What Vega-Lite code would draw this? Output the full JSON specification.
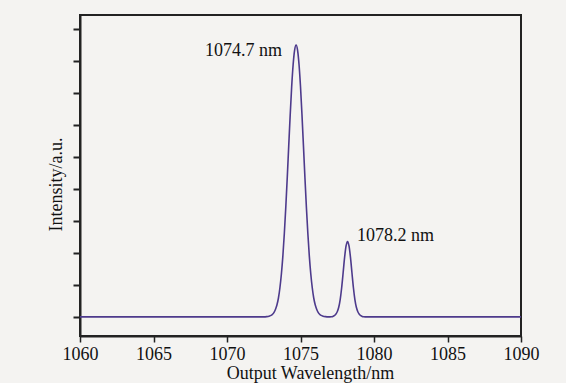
{
  "$schema": "https://vega.github.io/schema/vega-lite/v6.json",
  "autosize": "none",
  "width": 441,
  "height": 321,
  "padding": {"left": 80, "top": 15, "right": 45, "bottom": 47},
  "background": "#f4f3f1",
  "config": {
    "font": "Liberation Serif",
    "view": {"stroke": "#222222", "strokeWidth": 2},
    "axis": {"domainColor": "#222222", "domainWidth": 2, "tickColor": "#222222", "labelColor": "#111111", "titleColor": "#111111", "grid": false, "labelFont": "Liberation Serif", "titleFont": "Liberation Serif", "titleFontWeight": "normal"}
  },
  "datasets": {
    "spectrum": [
      {"wl": 1060, "intensity": 0},
      {"wl": 1072.5, "intensity": 0},
      {"wl": 1072.7, "intensity": 0.006},
      {"wl": 1072.8, "intensity": 0.013},
      {"wl": 1072.9, "intensity": 0.025},
      {"wl": 1073.0, "intensity": 0.045},
      {"wl": 1073.1, "intensity": 0.08},
      {"wl": 1073.2, "intensity": 0.14},
      {"wl": 1073.3, "intensity": 0.24},
      {"wl": 1073.4, "intensity": 0.38},
      {"wl": 1073.5, "intensity": 0.59},
      {"wl": 1073.6, "intensity": 0.91},
      {"wl": 1073.7, "intensity": 1.34},
      {"wl": 1073.8, "intensity": 1.90},
      {"wl": 1073.9, "intensity": 2.61},
      {"wl": 1074.0, "intensity": 3.44},
      {"wl": 1074.1, "intensity": 4.37},
      {"wl": 1074.2, "intensity": 5.36},
      {"wl": 1074.3, "intensity": 6.33},
      {"wl": 1074.4, "intensity": 7.21},
      {"wl": 1074.5, "intensity": 7.90},
      {"wl": 1074.6, "intensity": 8.35},
      {"wl": 1074.7, "intensity": 8.51},
      {"wl": 1074.8, "intensity": 8.35},
      {"wl": 1074.9, "intensity": 7.90},
      {"wl": 1075.0, "intensity": 7.21},
      {"wl": 1075.1, "intensity": 6.33},
      {"wl": 1075.2, "intensity": 5.36},
      {"wl": 1075.3, "intensity": 4.37},
      {"wl": 1075.4, "intensity": 3.44},
      {"wl": 1075.5, "intensity": 2.61},
      {"wl": 1075.6, "intensity": 1.90},
      {"wl": 1075.7, "intensity": 1.34},
      {"wl": 1075.8, "intensity": 0.91},
      {"wl": 1075.9, "intensity": 0.59},
      {"wl": 1076.0, "intensity": 0.38},
      {"wl": 1076.1, "intensity": 0.24},
      {"wl": 1076.2, "intensity": 0.14},
      {"wl": 1076.3, "intensity": 0.08},
      {"wl": 1076.4, "intensity": 0.045},
      {"wl": 1076.5, "intensity": 0.025},
      {"wl": 1076.6, "intensity": 0.013},
      {"wl": 1076.7, "intensity": 0.006},
      {"wl": 1076.9, "intensity": 0},
      {"wl": 1077.0, "intensity": 0},
      {"wl": 1077.1, "intensity": 0.003},
      {"wl": 1077.2, "intensity": 0.012},
      {"wl": 1077.3, "intensity": 0.035},
      {"wl": 1077.4, "intensity": 0.08},
      {"wl": 1077.5, "intensity": 0.16},
      {"wl": 1077.6, "intensity": 0.30},
      {"wl": 1077.7, "intensity": 0.54},
      {"wl": 1077.8, "intensity": 0.91},
      {"wl": 1077.9, "intensity": 1.38},
      {"wl": 1078.0, "intensity": 1.86},
      {"wl": 1078.1, "intensity": 2.22},
      {"wl": 1078.2, "intensity": 2.36},
      {"wl": 1078.3, "intensity": 2.22},
      {"wl": 1078.4, "intensity": 1.86},
      {"wl": 1078.5, "intensity": 1.38},
      {"wl": 1078.6, "intensity": 0.91},
      {"wl": 1078.7, "intensity": 0.54},
      {"wl": 1078.8, "intensity": 0.30},
      {"wl": 1078.9, "intensity": 0.16},
      {"wl": 1079.0, "intensity": 0.08},
      {"wl": 1079.1, "intensity": 0.035},
      {"wl": 1079.2, "intensity": 0.012},
      {"wl": 1079.3, "intensity": 0.003},
      {"wl": 1079.4, "intensity": 0},
      {"wl": 1090, "intensity": 0}
    ],
    "labels": [
      {"wl": 1068.5, "intensity": 8.18, "label": "1074.7 nm"},
      {"wl": 1078.84, "intensity": 2.37, "label": "1078.2 nm"}
    ]
  },
  "layer": [
    {
      "data": {"name": "spectrum"},
      "mark": {"type": "line", "color": "#4d3a8c", "strokeWidth": 1.6, "interpolate": "monotone", "clip": true},
      "encoding": {
        "x": {
          "field": "wl", "type": "quantitative",
          "scale": {"domain": [1060, 1090], "nice": false, "zero": false},
          "axis": {
            "title": "Output Wavelength/nm",
            "values": [1060, 1062.5, 1065, 1067.5, 1070, 1072.5, 1075, 1077.5, 1080, 1082.5, 1085, 1087.5, 1090],
            "format": "d",
            "labelExpr": "datum.value % 5 === 0 ? datum.label : ''",
            "tickSize": {"condition": {"test": "datum.value % 5 === 0", "value": 6}, "value": 4},
            "tickWidth": 1.5,
            "labelFontSize": 18,
            "labelPadding": 3,
            "labelFlush": false,
            "labelOverlap": false,
            "titleFontSize": 18,
            "titleX": 230,
            "titleY": 42,
            "titleBaseline": "alphabetic",
            "titleAlign": "center"
          }
        },
        "y": {
          "field": "intensity", "type": "quantitative",
          "scale": {"domain": [-0.6, 9.45], "nice": false, "zero": false},
          "axis": {
            "title": "Intensity/a.u.",
            "values": [0, 1, 2, 3, 4, 5, 6, 7, 8, 9],
            "tickCount": 10,
            "labels": false,
            "labelOverlap": false,
            "tickSize": 7,
            "tickWidth": 2,
            "titleFontSize": 18,
            "titleX": -19,
            "titleY": 169,
            "titleAngle": -90,
            "titleBaseline": "alphabetic",
            "titleAlign": "center"
          }
        }
      }
    },
    {
      "data": {"name": "labels"},
      "mark": {"type": "text", "align": "left", "baseline": "alphabetic", "fontSize": 18, "font": "Liberation Serif", "color": "#111111"},
      "encoding": {
        "x": {"field": "wl", "type": "quantitative"},
        "y": {"field": "intensity", "type": "quantitative"},
        "text": {"field": "label"}
      }
    }
  ]
}
